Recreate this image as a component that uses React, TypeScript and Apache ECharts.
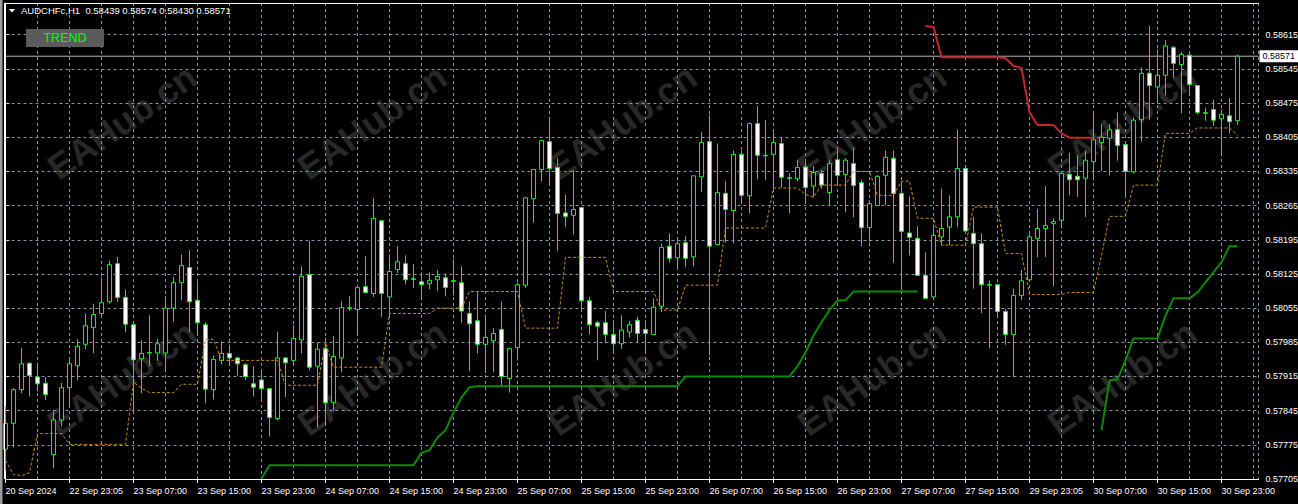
import React, { useEffect, useRef } from "react";
import * as echarts from "echarts";

const symbolName = "AUDCHFc,H1";
const timeLabels = [
  "20 Sep 2024", "22 Sep 23:05", "23 Sep 07:00", "23 Sep 15:00", "23 Sep 23:00",
  "24 Sep 07:00", "24 Sep 15:00", "24 Sep 23:00", "25 Sep 07:00", "25 Sep 15:00",
  "25 Sep 23:00", "26 Sep 07:00", "26 Sep 15:00", "26 Sep 23:00", "27 Sep 07:00",
  "27 Sep 15:00", "29 Sep 23:05", "30 Sep 07:00", "30 Sep 15:00", "30 Sep 23:00",
];
const barsPerLabel = 8;
const priceMin = 0.57705;
const priceStep = 0.0007;
const priceMax = 0.5868;

const opens = [
  0.57766, 0.57819, 0.57888, 0.57942, 0.57914, 0.57901, 0.57755, 0.57826, 0.57892, 0.57937,
  0.57981, 0.58015, 0.58044, 0.58068, 0.58146, 0.58077, 0.58021, 0.57951, 0.57963, 0.57963,
  0.57963, 0.58055, 0.58107, 0.58138, 0.58071, 0.58021, 0.57888, 0.57948, 0.57962, 0.57953,
  0.57939, 0.579, 0.57908, 0.5789, 0.57829, 0.57953, 0.57948, 0.5799, 0.58124, 0.57936,
  0.57972, 0.57862, 0.57953, 0.58054, 0.58052, 0.58099, 0.58085, 0.58234, 0.58078, 0.58134,
  0.58146, 0.58115, 0.58109, 0.58105, 0.58113, 0.58117, 0.58111, 0.58107, 0.58044, 0.58029,
  0.57981, 0.57988, 0.58011, 0.57911, 0.57974, 0.58102, 0.58279, 0.58339, 0.58396, 0.58343,
  0.5825, 0.58245, 0.58261, 0.5807, 0.58025, 0.58025, 0.58001, 0.57982, 0.58006, 0.5803,
  0.58011, 0.58001, 0.58059, 0.58182, 0.58158, 0.58189, 0.5816, 0.58324, 0.58396, 0.58185,
  0.5829, 0.58255, 0.5837, 0.58285, 0.58433, 0.58368, 0.5837, 0.58392, 0.58322, 0.5832,
  0.58344, 0.58305, 0.58331, 0.58292, 0.58359, 0.58329, 0.58351, 0.58312, 0.5822, 0.58265,
  0.58327, 0.58362, 0.5829, 0.58209, 0.58198, 0.58122, 0.58078, 0.58201, 0.58221, 0.58242,
  0.58341, 0.58208, 0.58187, 0.58103, 0.58103, 0.58048, 0.58001, 0.58081, 0.58113, 0.58198,
  0.58218, 0.58228, 0.58235, 0.58329, 0.58325, 0.58321, 0.58355, 0.58394, 0.58403, 0.58421,
  0.5839, 0.58334, 0.58441, 0.58536, 0.58508, 0.58532, 0.58589, 0.58554, 0.58573, 0.58511,
  0.58455, 0.58462, 0.58443, 0.58449, 0.58439,
];
const highs = [
  0.57854, 0.57891, 0.57973, 0.57944, 0.57943, 0.57914, 0.57847, 0.57902, 0.5795, 0.57991,
  0.58044, 0.58064, 0.58118, 0.58152, 0.5816, 0.58093, 0.58022, 0.57989, 0.5804, 0.57992,
  0.58079, 0.58119, 0.58165, 0.58174, 0.58108, 0.58026, 0.57958, 0.57987, 0.5798, 0.57955,
  0.57942, 0.57936, 0.57928, 0.5789, 0.58007, 0.57955, 0.5802, 0.58141, 0.58192, 0.57984,
  0.57994, 0.57998, 0.58069, 0.58079, 0.58098, 0.58161, 0.5828, 0.58236, 0.58165, 0.58182,
  0.58163, 0.58145, 0.58128, 0.58128, 0.58133, 0.58126, 0.58155, 0.58141, 0.58069, 0.58088,
  0.58042, 0.58014, 0.58068, 0.57973, 0.58107, 0.58282, 0.58339, 0.584, 0.58446, 0.58362,
  0.58288, 0.58338, 0.58261, 0.58078, 0.58029, 0.58049, 0.5803, 0.5804, 0.58029, 0.58037,
  0.5803, 0.58075, 0.58187, 0.58208, 0.58194, 0.58202, 0.58326, 0.58415, 0.5845, 0.58392,
  0.58315, 0.58378, 0.58378, 0.58435, 0.58469, 0.5844, 0.58415, 0.58405, 0.58331, 0.58358,
  0.58354, 0.58346, 0.58338, 0.58358, 0.58378, 0.58362, 0.58384, 0.58317, 0.58276, 0.58327,
  0.58378, 0.58378, 0.58314, 0.58284, 0.58223, 0.58169, 0.58226, 0.583, 0.58286, 0.58421,
  0.58348, 0.58242, 0.58208, 0.58112, 0.58103, 0.58053, 0.58095, 0.58133, 0.58206, 0.58258,
  0.58305, 0.58239, 0.58331, 0.58373, 0.58368, 0.58378, 0.58457, 0.58432, 0.58432, 0.58456,
  0.5839, 0.58446, 0.58548, 0.58633, 0.58585, 0.58604, 0.58592, 0.5858, 0.5858, 0.58511,
  0.58466, 0.58482, 0.58462, 0.58485, 0.58574,
];
const lows = [
  0.57722, 0.5777, 0.57881, 0.57874, 0.57885, 0.57867, 0.57727, 0.57813, 0.57852, 0.57907,
  0.57971, 0.57963, 0.58035, 0.58064, 0.58068, 0.58006, 0.57839, 0.57881, 0.57936, 0.57947,
  0.57928, 0.58027, 0.58071, 0.58006, 0.57999, 0.5786, 0.57868, 0.5794, 0.5794, 0.57917,
  0.57908, 0.57874, 0.57864, 0.57792, 0.57825, 0.57873, 0.5794, 0.57962, 0.57928, 0.57811,
  0.57818, 0.57846, 0.57924, 0.58049, 0.57999, 0.58085, 0.58078, 0.58037, 0.58034, 0.58127,
  0.58104, 0.58096, 0.58075, 0.58094, 0.5809, 0.58079, 0.58081, 0.58025, 0.57926, 0.57962,
  0.57922, 0.57924, 0.57895, 0.57882, 0.57948, 0.58096, 0.5823, 0.58314, 0.58308, 0.58172,
  0.58221, 0.58206, 0.58049, 0.58001, 0.57948, 0.57984, 0.57962, 0.57972, 0.57995, 0.57984,
  0.57962, 0.58001, 0.58047, 0.58148, 0.58136, 0.58139, 0.58141, 0.58293, 0.57958, 0.58185,
  0.5819, 0.58188, 0.5827, 0.58249, 0.58319, 0.58318, 0.583, 0.58302, 0.58249, 0.58315,
  0.5827, 0.58283, 0.583, 0.58266, 0.58307, 0.58252, 0.58241, 0.58182, 0.5819, 0.58265,
  0.58266, 0.58148, 0.58092, 0.58163, 0.58122, 0.58075, 0.58075, 0.58184, 0.58184, 0.58221,
  0.58213, 0.58095, 0.58045, 0.57973, 0.58037, 0.5798, 0.57914, 0.58072, 0.58113, 0.58159,
  0.5816, 0.581, 0.5822, 0.58286, 0.58283, 0.58242, 0.58317, 0.58336, 0.58327, 0.58357,
  0.58284, 0.58331, 0.58396, 0.5844, 0.58475, 0.58491, 0.58527, 0.58454, 0.58491, 0.58452,
  0.58439, 0.58428, 0.5837, 0.58413, 0.5843,
];
const closes = [
  0.57819, 0.57888, 0.57941, 0.57917, 0.579, 0.57878, 0.57826, 0.57892, 0.57941, 0.57977,
  0.58019, 0.58042, 0.58066, 0.58144, 0.58077, 0.58022, 0.57949, 0.57962, 0.57964, 0.57982,
  0.58055, 0.58107, 0.58142, 0.58068, 0.58025, 0.57889, 0.5795, 0.57962, 0.57953, 0.57941,
  0.57915, 0.57893, 0.5789, 0.57831, 0.57953, 0.57943, 0.57993, 0.5812, 0.57934, 0.57971,
  0.57861, 0.57956, 0.58056, 0.58056, 0.58097, 0.58087, 0.58239, 0.58085, 0.5813, 0.5815,
  0.58113, 0.58114, 0.58103, 0.58112, 0.5812, 0.58097, 0.5811, 0.58049, 0.58023, 0.57981,
  0.57995, 0.58003, 0.57915, 0.57972, 0.58103, 0.58281, 0.58339, 0.58398, 0.58341, 0.58249,
  0.58243, 0.58257, 0.5807, 0.58021, 0.58018, 0.58001, 0.57982, 0.5801, 0.58021, 0.58003,
  0.58003, 0.58057, 0.58179, 0.58157, 0.58187, 0.58157, 0.58326, 0.58394, 0.58182, 0.58292,
  0.58257, 0.5837, 0.58286, 0.58433, 0.58368, 0.58367, 0.58394, 0.58323, 0.58321, 0.58343,
  0.58302, 0.58333, 0.58307, 0.58351, 0.58327, 0.58358, 0.58306, 0.5822, 0.58269, 0.58325,
  0.58364, 0.5829, 0.58212, 0.582, 0.58122, 0.58075, 0.58204, 0.58218, 0.58242, 0.58341,
  0.58213, 0.58187, 0.58103, 0.58102, 0.58048, 0.58001, 0.58081, 0.58111, 0.58201, 0.58218,
  0.58224, 0.58232, 0.58331, 0.58318, 0.58318, 0.58358, 0.584, 0.58405, 0.5842, 0.58388,
  0.58335, 0.5844, 0.58536, 0.58511, 0.58532, 0.58592, 0.58556, 0.58575, 0.58513, 0.58456,
  0.58454, 0.5844, 0.58452, 0.58437, 0.58571,
];
const channelMid = [
  0.57743, 0.57714, 0.57712, 0.57718, 0.57798, 0.57798, 0.57798, 0.57798, 0.57776, 0.57776,
  0.57776, 0.57776, 0.57776, 0.57776, 0.57776, 0.57776, 0.57903, 0.57891, 0.57882, 0.57882,
  0.57882, 0.57882, 0.57899, 0.57899, 0.57899, 0.57991, 0.57991, 0.57948, 0.57948, 0.57948,
  0.57948, 0.57948, 0.57948, 0.57948, 0.57948, 0.57897, 0.57897, 0.57897, 0.57897, 0.57897,
  0.57985, 0.57934, 0.57934, 0.57934, 0.57934, 0.57934, 0.57934, 0.57934, 0.58044, 0.58044,
  0.58044, 0.58044, 0.58044, 0.58044, 0.58055, 0.58055, 0.58055, 0.58055, 0.58089, 0.58089,
  0.58089, 0.58089, 0.58089, 0.58089, 0.58089, 0.58014, 0.58014, 0.58014, 0.58014, 0.58014,
  0.58159, 0.58159, 0.58159, 0.58159, 0.58159, 0.58159, 0.58089, 0.58089, 0.58089, 0.58089,
  0.58089, 0.58089, 0.58051, 0.58051, 0.58051, 0.58102, 0.58102, 0.58102, 0.58102, 0.58102,
  0.58219, 0.58219, 0.58219, 0.58219, 0.58219, 0.58219, 0.58301, 0.58301, 0.58301, 0.58301,
  0.58288, 0.58282, 0.58307, 0.58307, 0.58307, 0.58307, 0.58335, 0.58335, 0.58335, 0.58286,
  0.58286, 0.58286, 0.58315, 0.58315, 0.58239, 0.58239, 0.58239, 0.58184, 0.58184, 0.58184,
  0.58184, 0.58262, 0.58262, 0.58262, 0.58262, 0.58167, 0.58167, 0.58167, 0.58083, 0.58083,
  0.58083, 0.58083, 0.58083, 0.58087, 0.58087, 0.58087, 0.58087, 0.58163, 0.58243, 0.58243,
  0.58243, 0.58307, 0.58307, 0.58307, 0.58307, 0.58413, 0.58413, 0.58413, 0.58413, 0.58424,
  0.58424, 0.58424, 0.58424, 0.58424, 0.58409,
];
const supportStartA = 32;
const supportValuesA = [
  0.57706, 0.57733, 0.57733, 0.57733, 0.57733, 0.57733, 0.57733, 0.57733, 0.57733, 0.57733,
  0.57733, 0.57733, 0.57733, 0.57733, 0.57733, 0.57733, 0.57733, 0.57733, 0.57733, 0.57733,
  0.57759, 0.57764, 0.5779, 0.57805, 0.57841, 0.57872, 0.57893, 0.57895, 0.57895, 0.57895,
  0.57895, 0.57895, 0.57895, 0.57895, 0.57895, 0.57895, 0.57895, 0.57895, 0.57895, 0.57895,
  0.57895, 0.57895, 0.57895, 0.57895, 0.57895, 0.57895, 0.57895, 0.57895, 0.57895, 0.57895,
  0.57895, 0.57895, 0.57895, 0.57915, 0.57915, 0.57915, 0.57915, 0.57915, 0.57915, 0.57915,
  0.57915, 0.57915, 0.57915, 0.57915, 0.57915, 0.57915, 0.57915, 0.57936, 0.57964, 0.57999,
  0.58026, 0.58051, 0.58071, 0.58071, 0.58089, 0.58089, 0.58089, 0.58089, 0.58089, 0.58089,
  0.58089, 0.58089, 0.58089,
];
const supportStartB = 137;
const supportValuesB = [
  0.57805, 0.57907, 0.57909, 0.57948, 0.57993, 0.57993, 0.57993, 0.57993, 0.5804, 0.58075,
  0.58075, 0.58075, 0.58087, 0.58108, 0.58128, 0.58149, 0.58182, 0.58182,
];
const resistanceStart = 115;
const resistanceValues = [
  0.58633, 0.58631, 0.58569, 0.58569, 0.58569, 0.58569, 0.58569, 0.58569, 0.58569, 0.58569,
  0.58567, 0.58551, 0.58547, 0.58456, 0.5843, 0.5843, 0.5843, 0.58413, 0.58404, 0.58404,
  0.58404, 0.58404,
];

const FONT = "'Liberation Sans', Arial, sans-serif";
const GRID_COLOR = "#8794a3";

export default function App() {
  const ref = useRef<HTMLDivElement>(null);

  useEffect(() => {
    document.body.style.margin = "0";
    document.body.style.background = "#000";
    const chart = echarts.init(ref.current as HTMLDivElement, null, { renderer: "svg" });

    const n = opens.length;
    const xMax = 156.625;
    const candleData = opens.map((o, i) => [i, o, closes[i], lows[i], highs[i]]);
    const midData = channelMid.map((v, i) => [i, v]);
    const supportData: any[] = [];
    supportValuesA.forEach((v, k) => supportData.push([supportStartA + k, v]));
    supportData.push([supportStartA + supportValuesA.length, "-"]);
    supportValuesB.forEach((v, k) => supportData.push([supportStartB + k, v]));
    const resistanceData = resistanceValues.map((v, k) => [resistanceStart + k, v]);

    const last = n - 1;
    const lastClose = closes[last];
    const header =
      symbolName + "  " + opens[last].toFixed(5) + " " + highs[last].toFixed(5) + " " +
      lows[last].toFixed(5) + " " + lastClose.toFixed(5);

    const wmX = [122, 372, 622, 872, 1122];
    const wmY = [122, 378];
    const watermarks: any[] = [];
    wmY.forEach((y) =>
      wmX.forEach((x) =>
        watermarks.push({
          type: "text",
          x,
          y,
          rotation: (35 * Math.PI) / 180,
          z: -10,
          silent: true,
          style: {
            text: "EAHub.cn",
            fill: "#282828",
            fontSize: 36,
            fontWeight: "bold",
            fontFamily: FONT,
            align: "center",
            verticalAlign: "middle",
          },
        })
      )
    );

    const option: any = {
      animation: false,
      backgroundColor: "#000000",
      grid: {
        left: 5.5,
        right: 39.5,
        top: 3,
        bottom: 25,
        containLabel: false,
        outerBoundsMode: "none",
      },
      xAxis: [
        {
          type: "value",
          position: "bottom",
          min: 0,
          max: xMax,
          interval: 4,
          axisLine: { show: false },
          axisTick: { show: false },
          axisLabel: { show: false },
          splitLine: { show: true, lineStyle: { color: GRID_COLOR, width: 1, type: [3, 3] } },
        },
        {
          type: "value",
          position: "bottom",
          min: 0,
          max: xMax,
          interval: barsPerLabel,
          axisLine: { show: true, lineStyle: { color: "#ffffff", width: 1 } },
          axisTick: { show: true, length: 4, lineStyle: { color: "#ffffff" } },
          splitLine: { show: false },
          axisLabel: {
            show: true,
            showMaxLabel: false,
            margin: 7,
            align: "left",
            color: "#ffffff",
            fontSize: 9,
            fontFamily: FONT,
            formatter: (v: number) => {
              const k = Math.round(v / barsPerLabel);
              if (Math.abs(v - k * barsPerLabel) < 1e-6 && k < timeLabels.length) return timeLabels[k];
              return "";
            },
          },
        },
      ],
      yAxis: {
        type: "value",
        position: "right",
        min: priceMin,
        max: priceMax,
        interval: priceStep,
        scale: true,
        axisLine: { show: true, lineStyle: { color: "#ffffff", width: 1 } },
        axisTick: { show: true, length: 4, lineStyle: { color: "#c8c8c8" } },
        splitLine: { show: true, lineStyle: { color: GRID_COLOR, width: 1, type: [3, 3] } },
        axisLabel: {
          show: true,
          showMaxLabel: false,
          margin: 7,
          color: "#ffffff",
          fontSize: 9,
          fontFamily: FONT,
          formatter: (v: number) => v.toFixed(5),
        },
      },
      series: [
        {
          type: "line",
          xAxisIndex: 0,
          z: 1,
          data: [[0, lastClose], [xMax, lastClose]],
          showSymbol: false,
          symbol: "none",
          silent: true,
          lineStyle: { color: "#b4b4b4", width: 1 },
          endLabel: {
            show: true,
            distance: 1,
            formatter: lastClose.toFixed(5),
            color: "#000000",
            backgroundColor: "#ffffff",
            padding: [2, 3, 1, 3],
            fontSize: 9,
            fontFamily: FONT,
          },
        },
        {
          type: "candlestick",
          xAxisIndex: 0,
          data: candleData,
          barWidth: 4,
          clip: true,
          itemStyle: {
            color: "#000000",
            color0: "#ffffff",
            borderColor: "#00ff00",
            borderColor0: "#00ff00",
            borderWidth: 1,
          },
        },
        {
          type: "line",
          xAxisIndex: 0,
          data: midData,
          showSymbol: false,
          symbol: "none",
          lineStyle: { color: "#c98b12", width: 1, type: [3, 2] },
        },
        {
          type: "line",
          xAxisIndex: 0,
          data: supportData,
          showSymbol: false,
          symbol: "none",
          connectNulls: false,
          lineStyle: { color: "#0a8c0a", width: 2 },
        },
        {
          type: "line",
          xAxisIndex: 0,
          data: resistanceData,
          showSymbol: false,
          symbol: "none",
          lineStyle: { color: "#c4262c", width: 2 },
        },
      ],
      graphic: [
        ...watermarks,
        {
          type: "rect",
          z: 49,
          silent: true,
          shape: { x: 0, y: 0, width: 2.5, height: 504 },
          style: { fill: "#9a9a9a" },
        },
        {
          type: "line",
          z: 50,
          silent: true,
          shape: { x1: 4.5, y1: 3, x2: 4.5, y2: 479 },
          style: { stroke: "#ffffff", lineWidth: 1 },
        },
        {
          type: "line",
          z: 50,
          silent: true,
          shape: { x1: 4.5, y1: 3.5, x2: 1258.5, y2: 3.5 },
          style: { stroke: "#ffffff", lineWidth: 1 },
        },
        {
          type: "polygon",
          z: 50,
          silent: true,
          shape: { points: [[9, 9], [15, 9], [12, 12.5]] },
          style: { fill: "#ffffff" },
        },
        {
          type: "text",
          z: 50,
          silent: true,
          x: 21,
          y: 10.5,
          style: {
            text: header,
            fill: "#ffffff",
            fontSize: 9.5,
            fontFamily: FONT,
            align: "left",
            verticalAlign: "middle",
          },
        },
        {
          type: "rect",
          z: 50,
          silent: true,
          shape: { x: 26, y: 29, width: 78, height: 18 },
          style: { fill: "#5b5b5b" },
        },
        {
          type: "text",
          z: 51,
          silent: true,
          x: 65,
          y: 38,
          style: {
            text: "TREND",
            fill: "#00ff00",
            fontSize: 12.5,
            fontFamily: FONT,
            align: "center",
            verticalAlign: "middle",
          },
        },
      ],
    };

    chart.setOption(option);
    return () => chart.dispose();
  }, []);

  return <div ref={ref} style={{ width: 1298, height: 504, background: "#000" }} />;
}
